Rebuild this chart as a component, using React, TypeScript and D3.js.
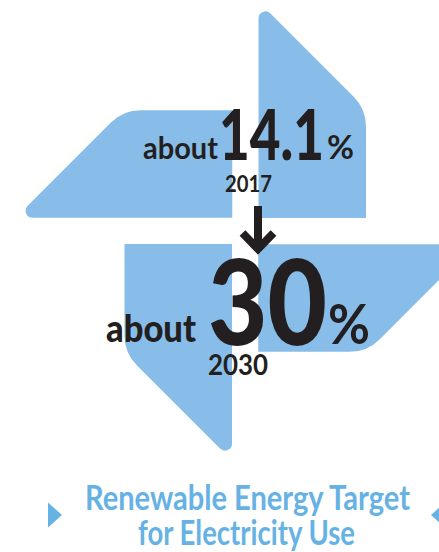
import React from "react";
import * as d3 from "d3";

const W = 439, H = 552;
const years = ["2017", "2030"];
const shares = ["14.1", "30"];
const prefix = "about";
const titleLines = ["Renewable Energy Target", "for Electricity Use"];
const bladeAngles = [0, -90, 180, 90];
// one blade outline in px offsets from pinwheel hub: [dx, dy, corner radius]
const bladeOutline: [number, number, number][] = [
  [13.25, -13, 0],
  [13.25, -229.5, 7],
  [120.75, -122, 42],
  [120.75, -13, 0],
];
const hub = [245.25, 231];

const sx = d3.scaleLinear().domain([0, 1]).range([hub[0], hub[0] + 1]);
const sy = d3.scaleLinear().domain([0, 1]).range([hub[1], hub[1] + 1]);

function bladePath(angle: number) {
  const a = (angle * Math.PI) / 180;
  const pts = bladeOutline.map(([x, y, r]) => ({
    x: sx(x * Math.cos(a) - y * Math.sin(a)),
    y: sy(x * Math.sin(a) + y * Math.cos(a)),
    r,
  }));
  const p = d3.path();
  p.moveTo(pts[0].x, pts[0].y);
  for (let i = 1; i < pts.length; i++) {
    const cur = pts[i], next = pts[(i + 1) % pts.length];
    if (cur.r) p.arcTo(cur.x, cur.y, next.x, next.y, cur.r);
    else p.lineTo(cur.x, cur.y);
  }
  p.closePath();
  return p.toString();
}

const BLADE = "#87BDE8", INK = "#231F20", TITLE = "#66B2E4";
const FONT = "Lato, 'Open Sans', sans-serif";

function T({ x, y, w, size, fill = INK, weight = 700, anchor = "start", children }: any) {
  return (
    <text x={x} y={y} fontSize={size} fontWeight={weight} fontFamily={FONT} fill={fill}
      textAnchor={anchor} textLength={w} lengthAdjust="spacingAndGlyphs">{children}</text>
  );
}

export default function App() {
  return (
    <svg width={W} height={H} viewBox={`0 0 ${W} ${H}`}
      style={{ position: "absolute", left: 0, top: 0, background: "#fff" }}>
      {bladeAngles.map((a) => <path key={a} d={bladePath(a)} fill={BLADE} />)}

      <T x={143} y={159} w={75} size={31}>{prefix}</T>
      <T x={219} y={159.5} w={105} size={70} weight={900}>{shares[0]}</T>
      <T x={327} y={159} w={27} size={33} weight={700}>%</T>
      <T x={225} y={192} w={47} size={22}>{years[0]}</T>

      <path d="M258 206V250" stroke={INK} strokeWidth={8} fill="none" />
      <path d="M242.5 233L258 249L273.5 233" stroke={INK} strokeWidth={8} fill="none" />

      <T x={208} y={345} w={119} size={118} weight={900}>{shares[1]}</T>
      <T x={328} y={344} w={42} size={55} weight={700}>%</T>
      <T x={106} y={342} w={90} size={38} weight={900}>{prefix}</T>
      <T x={208} y={375} w={60} size={28}>{years[1]}</T>

      <T x={85} y={510} w={325} size={34} fill={TITLE}>{titleLines[0]}</T>
      <T x={138} y={545} w={217} size={34} fill={TITLE}>{titleLines[1]}</T>

      <path d="M48 502.5L62 515L48 527.5Z" fill={TITLE} />
      <path d="M445 502.5L431 515L445 527.5Z" fill={TITLE} />
    </svg>
  );
}
